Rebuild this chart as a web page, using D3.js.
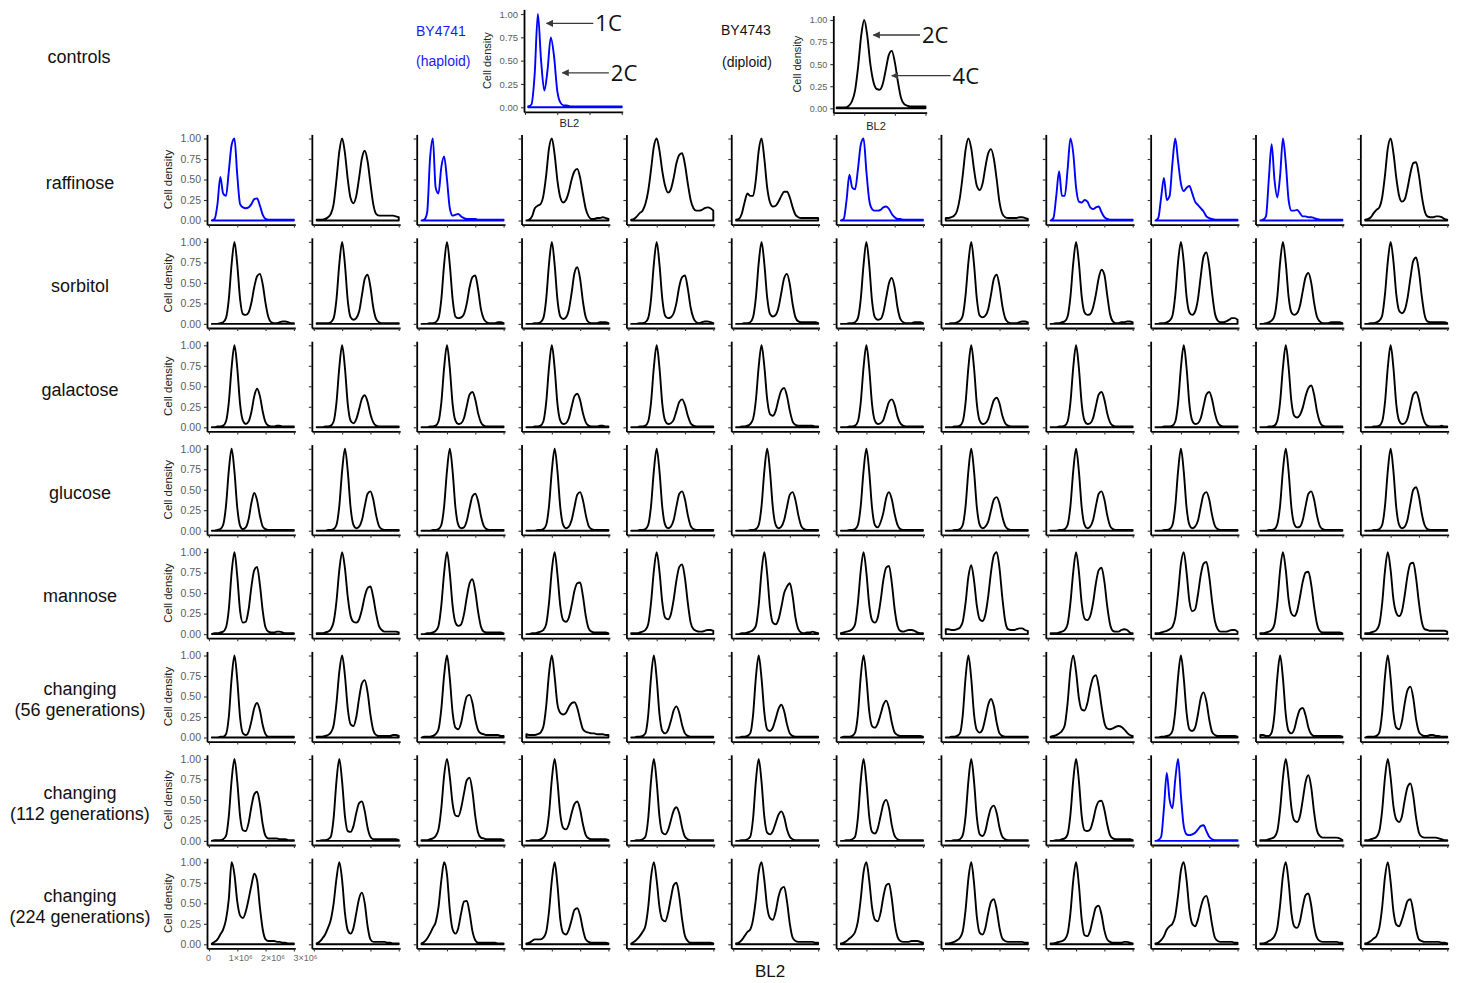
<!DOCTYPE html>
<html>
<head>
<meta charset="utf-8">
<script src="https://cdn.jsdelivr.net/npm/d3@7"></script>
<style>
    body { margin: 0; background: #fff; }
    svg { display: block; font-family: "Liberation Sans", Arial, sans-serif; }
</style>
</head>
<body>
<div id="viz"></div>
<script>
const bl2Grid = [0.1, 0.2, 0.3, 0.4, 0.5, 0.6, 0.7, 0.8, 0.9, 1.0,
                 1.1, 1.2, 1.3, 1.4, 1.5, 1.6, 1.7, 1.8, 1.9, 2.0,
                 2.1, 2.2, 2.3, 2.4, 2.5, 2.6, 2.7, 2.8, 2.9, 3.0];

const conditions = ['raffinose', 'sorbitol', 'galactose', 'glucose', 'mannose',
                    'changing56', 'changing112', 'changing224'];
const rowLabels = [['raffinose'], ['sorbitol'], ['galactose'], ['glucose'], ['mannose'],
                   ['changing', '(56 generations)'], ['changing', '(112 generations)'],
                   ['changing', '(224 generations)']];

// columns (0-based) that are haploid, drawn in blue
const haploidCols = {raffinose: [0, 2, 6, 8, 9, 10], changing112: [9]};

const xTickValues = [0, 1e6, 2e6, 3e6];
const yTickValues = [0, 0.25, 0.5, 0.75, 1];

const haploidControl = [.01,.03,.35,1,.5,.18,.4,.75,.55,.18, .05,.02,.02,.01,.01,.01,.01,.01,.01,.01, .01,.01,.01,.01,.01,.01,.01,.01,.01,.01];
const diploidControl = [.01,.01,.01,.01,.03,.08,.2,.47,.82,1, .82,.5,.3,.22,.21,.27,.43,.6,.65,.52, .3,.12,.05,.03,.02,.02,.02,.02,.02,.02];

const controlNotes = [
    {panel: 'haploid', label: '1C', tipX: 0.67e6, tailX: 2.12e6, y: 0.9},
    {panel: 'haploid', label: '2C', tipX: 1.16e6, tailX: 2.6e6, y: 0.37},
    {panel: 'diploid', label: '2C', tipX: 1.3e6, tailX: 2.82e6, y: 0.83},
    {panel: 'diploid', label: '4C', tipX: 1.9e6, tailX: 3.82e6, y: 0.37}
];

const raffinose = [
    [0,.02,.2,.53,.33,.3,.6,.92,1,.55, .2,.16,.15,.16,.2,.26,.27,.18,.07,.02, .01,.01,.01,.01,.01,.01,.01,.01,.01,.01],
    [.01,.01,.01,.02,.04,.08,.2,.5,.84,1, .82,.5,.27,.21,.3,.52,.76,.85,.72,.45, .2,.08,.06,.06,.06,.06,.06,.06,.05,.04],
    [0,.01,.1,.75,1,.4,.33,.65,.78,.5, .15,.06,.07,.08,.05,.03,.02,.02,.02,.02, .01,.01,.01,.01,.01,.01,.01,.01,.01,.01],
    [0,.01,.05,.15,.18,.2,.3,.55,.88,1, .8,.48,.28,.22,.25,.35,.5,.6,.63,.52, .32,.14,.05,.02,.02,.03,.03,.04,.03,.02],
    [.01,.02,.05,.09,.12,.2,.36,.62,.9,1, .85,.6,.42,.34,.38,.52,.7,.8,.82,.68, .45,.25,.15,.12,.12,.13,.15,.16,.15,.12],
    [.01,.02,.08,.22,.33,.3,.3,.5,.85,1, .75,.4,.22,.17,.18,.23,.3,.35,.35,.28, .16,.07,.04,.03,.03,.03,.03,.03,.03,.03],
    [0,.02,.25,.56,.4,.38,.62,.92,1,.6, .25,.14,.12,.12,.13,.16,.17,.14,.08,.04, .02,.02,.01,.01,.01,.01,.01,.01,.01,.01],
    [.03,.03,.04,.06,.12,.28,.55,.86,1,.88, .62,.42,.37,.45,.65,.82,.87,.75,.5,.22, .08,.04,.03,.03,.03,.03,.04,.04,.03,.02],
    [0,.03,.3,.6,.3,.3,.62,1,.82,.4, .23,.22,.25,.23,.16,.14,.16,.17,.1,.04, .02,.01,.01,.01,.01,.01,.01,.01,.01,.01],
    [0,.03,.28,.52,.25,.3,.7,1,.72,.45, .36,.4,.42,.33,.23,.19,.15,.11,.05,.03, .02,.01,.01,.01,.01,.01,.01,.01,.01,.01],
    [0,.01,.05,.5,.93,.5,.28,.55,1,.7, .25,.12,.12,.13,.09,.05,.05,.04,.04,.03, .02,.01,.01,.01,.01,.01,.01,.01,.01,.01],
    [.01,.02,.04,.09,.13,.16,.28,.55,.88,1, .82,.52,.3,.23,.26,.4,.58,.7,.71,.55, .3,.12,.05,.04,.04,.05,.05,.04,.02,.01]
];

const sorbitol = [
    [0,0,0,.01,.02,.07,.3,.73,1,.72, .3,.12,.11,.14,.26,.45,.58,.61,.48,.25, .08,.02,.01,.01,.02,.03,.03,.02,.01,.01],
    [.01,.01,.01,.01,.01,.02,.07,.3,.73,1, .72,.28,.08,.05,.07,.15,.35,.55,.6,.45, .2,.06,.02,.01,.01,.01,.01,.01,.01,.01],
    [0,0,0,.01,.01,.02,.07,.3,.73,1, .72,.3,.09,.07,.08,.12,.25,.45,.57,.59, .42,.18,.06,.02,.01,.01,.01,.02,.02,.01],
    [0,0,0,.01,.01,.02,.07,.3,.73,1, .72,.29,.09,.06,.08,.17,.38,.62,.69,.55, .27,.08,.02,.01,.01,.01,.02,.02,.02,.01],
    [0,0,0,.01,.01,.02,.07,.3,.73,1, .72,.3,.1,.07,.08,.13,.26,.46,.57,.59, .43,.2,.07,.02,.01,.02,.03,.03,.02,.01],
    [0,0,0,.01,.01,.02,.08,.32,.74,1, .73,.32,.12,.09,.11,.2,.38,.56,.61,.48, .24,.08,.03,.02,.02,.02,.02,.02,.02,.01],
    [0,0,0,.01,.01,.02,.07,.3,.72,1, .72,.28,.08,.05,.06,.14,.32,.5,.56,.44, .2,.06,.02,.01,.01,.01,.02,.02,.02,.01],
    [0,0,.01,.01,.02,.04,.1,.35,.75,1, .72,.3,.1,.08,.1,.18,.36,.55,.6,.46, .22,.07,.02,.01,.01,.01,.02,.03,.03,.02],
    [0,0,.01,.01,.02,.03,.09,.33,.74,1, .74,.33,.14,.11,.12,.2,.36,.56,.66,.6, .35,.12,.03,.01,.01,.02,.02,.03,.03,.02],
    [0,0,.01,.01,.02,.04,.1,.35,.76,1, .75,.33,.14,.11,.15,.3,.58,.82,.87,.7, .38,.13,.04,.02,.02,.03,.05,.07,.07,.05],
    [0,0,.01,.02,.04,.1,.33,.75,1,.74, .33,.14,.11,.13,.22,.4,.57,.62,.5,.26, .09,.03,.01,.01,.01,.02,.02,.02,.02,.01],
    [0,0,.01,.01,.02,.04,.1,.36,.76,1, .76,.36,.16,.13,.17,.32,.56,.77,.81,.64, .34,.11,.03,.02,.02,.02,.02,.02,.02,.01]
];

const galactose = [
    [0,0,.01,.01,.02,.07,.3,.73,1,.72, .28,.08,.04,.07,.19,.38,.47,.38,.19,.06, .02,.01,.01,.02,.02,.01,.01,.01,.01,.01],
    [0,0,0,.01,.01,.02,.07,.3,.73,1, .72,.28,.08,.05,.1,.22,.35,.39,.31,.16, .06,.02,.01,.01,.01,.01,.01,.01,.01,.01],
    [0,0,0,.01,.01,.02,.07,.3,.73,1, .72,.28,.08,.04,.05,.11,.26,.4,.43,.34, .17,.06,.02,.01,.01,.01,.01,.01,.01,.01],
    [0,0,0,.01,.01,.02,.07,.3,.73,1, .72,.28,.08,.04,.05,.11,.25,.38,.41,.33, .17,.06,.02,.01,.01,.01,.02,.02,.01,.01],
    [0,0,0,.01,.01,.02,.07,.3,.73,1, .72,.28,.08,.04,.05,.09,.2,.31,.34,.27, .14,.05,.02,.01,.01,.01,.01,.01,.01,.01],
    [0,0,.01,.01,.02,.04,.1,.33,.74,1, .74,.34,.16,.14,.2,.34,.45,.48,.38,.2, .07,.03,.02,.02,.02,.02,.02,.02,.01,.01],
    [0,0,0,.01,.01,.02,.07,.3,.73,1, .72,.28,.08,.04,.05,.09,.2,.31,.34,.27, .13,.05,.02,.01,.01,.01,.01,.01,.01,.01],
    [0,0,0,.01,.01,.02,.07,.3,.73,1, .72,.28,.08,.04,.05,.1,.22,.33,.36,.29, .14,.05,.02,.01,.01,.01,.01,.01,.01,.01],
    [0,0,0,.01,.01,.02,.07,.3,.73,1, .72,.28,.08,.04,.05,.11,.26,.4,.43,.34, .17,.06,.02,.01,.01,.01,.01,.01,.01,.01],
    [0,0,0,.01,.01,.01,.02,.07,.3,.73, 1,.72,.28,.08,.04,.05,.11,.26,.4,.43, .34,.17,.06,.02,.01,.01,.01,.01,.01,.01],
    [0,0,0,.01,.01,.02,.08,.31,.73,1, .73,.31,.14,.12,.15,.24,.38,.48,.51,.4, .2,.07,.02,.01,.01,.01,.01,.01,.01,.01],
    [0,0,0,.01,.01,.02,.07,.3,.73,1, .72,.28,.08,.04,.05,.11,.26,.4,.43,.34, .17,.06,.02,.01,.01,.01,.01,.02,.01,.01]
];

const glucose = [
    [0,0,.01,.02,.07,.3,.73,1,.72,.28, .06,.02,.04,.14,.34,.46,.37,.18,.05,.02, .01,.01,.01,.01,.01,.01,.01,.01,.01,.01],
    [0,0,0,0,.01,.01,.02,.07,.3,.73, 1,.72,.28,.07,.03,.05,.13,.3,.45,.48, .38,.19,.06,.02,.01,.01,.01,.01,.01,.01],
    [0,0,0,0,.01,.01,.02,.07,.3,.73, 1,.72,.28,.07,.03,.04,.12,.28,.42,.45, .36,.18,.06,.02,.01,.01,.01,.01,.01,.01],
    [0,0,0,0,.01,.01,.02,.07,.3,.73, 1,.72,.28,.07,.03,.05,.13,.29,.44,.47, .37,.19,.06,.02,.01,.01,.01,.01,.01,.01],
    [0,0,0,.01,.01,.02,.07,.3,.73,1, .72,.28,.07,.03,.05,.13,.3,.45,.48,.38, .19,.06,.02,.01,.01,.01,.01,.01,.01,.01],
    [0,0,0,0,0,.01,.01,.02,.07,.3, .73,1,.72,.28,.07,.03,.05,.13,.29,.44, .47,.37,.19,.06,.02,.01,.01,.01,.01,.01],
    [0,0,0,.01,.01,.02,.07,.3,.73,1, .72,.28,.07,.04,.1,.22,.4,.47,.38,.2, .07,.02,.01,.01,.01,.01,.01,.01,.01,.01],
    [0,0,0,.01,.01,.02,.07,.3,.73,1, .72,.28,.07,.03,.05,.11,.25,.38,.41,.33, .17,.06,.02,.01,.01,.01,.01,.01,.01,.01],
    [0,0,0,.01,.01,.02,.07,.3,.73,1, .72,.28,.07,.03,.05,.13,.3,.45,.48,.38, .19,.06,.02,.01,.01,.01,.01,.01,.01,.01],
    [0,0,0,.01,.01,.02,.07,.3,.73,1, .72,.28,.07,.03,.05,.12,.29,.44,.47,.38, .19,.06,.02,.01,.01,.01,.01,.01,.01,.01],
    [0,0,0,.01,.01,.02,.08,.31,.74,1, .72,.28,.08,.04,.05,.13,.3,.45,.48,.38, .19,.06,.02,.01,.01,.01,.01,.01,.01,.01],
    [0,0,0,.01,.01,.02,.07,.3,.73,1, .72,.28,.07,.03,.05,.14,.33,.5,.53,.42, .21,.07,.02,.01,.01,.01,.01,.01,.01,.01]
];

const mannose = [
    [0,.01,.01,.02,.03,.08,.3,.75,1,.7, .28,.14,.15,.3,.58,.78,.82,.6,.28,.08, .03,.02,.02,.03,.03,.02,.01,.01,.01,.01],
    [.01,.01,.01,.02,.03,.06,.15,.4,.78,1, .8,.45,.22,.15,.14,.18,.3,.46,.56,.58, .45,.25,.1,.05,.03,.03,.03,.03,.03,.02],
    [0,0,.01,.01,.02,.04,.1,.35,.75,1, .74,.34,.14,.1,.12,.24,.45,.62,.67,.52, .27,.09,.03,.02,.02,.02,.02,.02,.02,.01],
    [0,0,.01,.01,.02,.03,.05,.12,.38,.78, 1,.72,.34,.17,.15,.2,.35,.53,.62,.63, .46,.22,.07,.03,.02,.02,.02,.02,.02,.01],
    [.01,.01,.01,.02,.03,.05,.12,.38,.77,1, .76,.38,.2,.18,.24,.42,.66,.82,.85,.68, .38,.14,.06,.04,.03,.03,.04,.05,.05,.04],
    [0,0,.01,.01,.02,.03,.05,.1,.35,.76, 1,.73,.32,.14,.12,.18,.33,.5,.58,.62, .46,.2,.06,.02,.01,.02,.02,.03,.02,.01],
    [.01,.02,.03,.04,.06,.12,.38,.77,1,.75, .36,.17,.14,.2,.4,.66,.81,.83,.62,.3, .1,.04,.03,.04,.05,.05,.04,.02,.01,.01],
    [.06,.06,.05,.05,.06,.08,.15,.38,.7,.84, .65,.34,.18,.16,.24,.46,.76,.96,1,.8, .44,.16,.06,.05,.05,.06,.07,.07,.05,.04],
    [.01,.01,.01,.02,.03,.05,.12,.38,.76,1, .76,.37,.19,.17,.22,.38,.62,.78,.81,.64, .34,.12,.04,.03,.03,.05,.06,.05,.02,.01],
    [.01,.01,.02,.03,.04,.06,.09,.2,.5,.86, 1,.75,.4,.28,.3,.48,.72,.86,.88,.7, .4,.16,.06,.03,.03,.03,.04,.05,.05,.03],
    [.01,.01,.02,.03,.05,.12,.38,.78,1,.78, .42,.25,.22,.28,.45,.64,.75,.76,.6,.34, .13,.04,.02,.02,.02,.02,.02,.02,.02,.01],
    [.01,.01,.02,.03,.05,.12,.37,.77,1,.78, .42,.26,.22,.28,.48,.72,.86,.87,.68,.38, .15,.06,.05,.04,.04,.04,.04,.04,.04,.03]
];

const changing56 = [
    [0,0,0,.01,.01,.04,.25,.72,1,.7, .24,.05,.03,.07,.2,.36,.42,.33,.15,.04, .01,.01,.01,.01,.01,.01,.01,.01,.01,.01],
    [.01,.01,.01,.02,.03,.06,.15,.42,.8,1, .75,.35,.16,.14,.25,.48,.66,.7,.55,.28, .09,.03,.02,.02,.02,.02,.02,.03,.03,.02],
    [0,.01,.01,.01,.02,.04,.1,.35,.76,1, .72,.3,.12,.1,.18,.36,.5,.52,.42,.22, .09,.05,.04,.03,.03,.03,.03,.03,.02,.02],
    [.04,.03,.03,.03,.04,.06,.13,.38,.78,1, .74,.4,.3,.28,.3,.37,.42,.43,.36,.22, .1,.07,.06,.05,.05,.04,.04,.04,.03,.03],
    [0,0,.01,.01,.02,.05,.27,.73,1,.72, .28,.08,.05,.09,.2,.33,.38,.3,.15,.05, .02,.01,.01,.01,.01,.01,.01,.01,.01,.01],
    [0,0,.01,.01,.02,.05,.27,.73,1,.72, .3,.1,.08,.12,.23,.35,.4,.32,.16,.05, .02,.01,.01,.01,.01,.01,.01,.01,.01,.01],
    [0,.01,.01,.01,.02,.06,.28,.74,1,.73, .32,.14,.12,.17,.28,.4,.45,.36,.18,.06, .03,.02,.02,.02,.02,.02,.02,.02,.02,.01],
    [0,0,.01,.01,.02,.05,.27,.73,1,.72, .28,.09,.06,.1,.24,.4,.47,.38,.18,.05, .02,.01,.01,.01,.01,.01,.01,.01,.01,.01],
    [.01,.02,.03,.05,.08,.15,.42,.82,1,.8, .48,.34,.33,.42,.6,.73,.76,.62,.38,.18, .11,.1,.11,.13,.14,.13,.1,.06,.03,.02],
    [0,0,.01,.01,.02,.03,.08,.32,.74,1, .72,.3,.1,.08,.12,.28,.48,.55,.44,.22, .07,.03,.02,.02,.02,.02,.02,.02,.02,.01],
    [.03,.03,.02,.02,.06,.28,.73,1,.72,.28, .08,.05,.1,.24,.34,.36,.27,.12,.04,.02, .02,.02,.02,.02,.02,.02,.02,.02,.02,.01],
    [0,.01,.01,.01,.02,.06,.3,.74,1,.72, .3,.12,.1,.2,.42,.58,.62,.48,.22,.07, .03,.02,.02,.03,.03,.02,.02,.01,.01,.01]
];

const changing112 = [
    [0,.01,.01,.01,.02,.06,.3,.74,1,.72, .3,.13,.12,.22,.42,.57,.6,.45,.2,.06, .03,.03,.03,.03,.02,.02,.02,.01,.01,.01],
    [0,0,.01,.01,.02,.05,.28,.73,1,.72, .3,.12,.11,.18,.34,.46,.48,.36,.16,.05, .02,.02,.02,.02,.02,.02,.02,.02,.02,.01],
    [.01,.01,.01,.02,.03,.06,.14,.4,.8,1, .78,.45,.31,.3,.4,.58,.74,.77,.6,.3, .1,.04,.03,.02,.02,.02,.02,.02,.02,.01],
    [0,0,.01,.01,.01,.02,.04,.1,.33,.75, 1,.72,.32,.16,.14,.2,.34,.45,.48,.38, .2,.07,.03,.02,.02,.02,.02,.02,.02,.01],
    [0,0,.01,.01,.02,.05,.27,.73,1,.72, .29,.1,.08,.13,.25,.37,.41,.33,.16,.05, .02,.01,.01,.01,.01,.01,.01,.01,.01,.01],
    [0,0,.01,.01,.02,.05,.27,.73,1,.72, .29,.1,.08,.12,.22,.32,.36,.29,.14,.05, .02,.01,.01,.01,.01,.01,.01,.01,.01,.01],
    [0,0,.01,.01,.02,.05,.28,.73,1,.72, .3,.11,.09,.15,.3,.45,.5,.4,.19,.06, .02,.01,.01,.01,.01,.01,.01,.01,.01,.01],
    [0,0,0,.01,.01,.02,.07,.3,.73,1, .72,.28,.08,.06,.12,.28,.4,.43,.34,.16, .05,.02,.01,.01,.01,.01,.01,.01,.01,.01],
    [0,0,.01,.01,.02,.03,.08,.32,.74,1, .73,.3,.13,.12,.14,.25,.4,.48,.49,.38, .2,.07,.03,.02,.02,.02,.02,.02,.02,.01],
    [0,.01,.05,.4,.83,.5,.4,.75,1,.55, .18,.08,.07,.08,.1,.14,.18,.19,.12,.05, .02,.01,.01,.01,.01,.01,.01,.01,.01,.01],
    [.01,.01,.01,.02,.03,.05,.12,.38,.77,1, .76,.4,.25,.23,.3,.5,.72,.8,.65,.35, .13,.06,.04,.04,.04,.04,.04,.04,.03,.01],
    [.01,.01,.02,.03,.05,.12,.37,.77,1,.77, .42,.26,.23,.3,.5,.66,.7,.55,.28,.1, .05,.04,.04,.04,.04,.04,.03,.02,.01,.01]
];

const changing224 = [
    [.01,.03,.06,.12,.18,.3,.55,1,.85,.52, .35,.32,.4,.55,.72,.86,.78,.45,.18,.06, .04,.04,.04,.03,.03,.02,.02,.01,.01,.01],
    [.01,.03,.07,.12,.2,.3,.5,.8,1,.78, .38,.17,.13,.2,.38,.56,.63,.5,.22,.06, .03,.03,.03,.03,.03,.02,.02,.01,.01,.01],
    [.01,.03,.07,.13,.2,.27,.45,.78,1,.85, .42,.18,.13,.2,.38,.52,.53,.38,.16,.05, .02,.02,.02,.02,.02,.02,.02,.01,.01,.01],
    [.01,.02,.04,.06,.06,.06,.08,.15,.4,.78, 1,.72,.3,.14,.12,.18,.3,.42,.44,.35, .18,.06,.03,.02,.02,.02,.02,.02,.02,.01],
    [.01,.03,.06,.1,.15,.22,.45,.82,1,.78, .45,.3,.28,.38,.56,.72,.75,.58,.3,.1, .04,.02,.02,.02,.02,.02,.02,.02,.02,.01],
    [.01,.02,.05,.1,.15,.18,.3,.55,.88,1, .78,.45,.32,.3,.4,.58,.68,.7,.52,.25, .08,.04,.03,.03,.03,.03,.03,.03,.02,.02],
    [.01,.02,.04,.07,.1,.15,.28,.55,.88,1, .78,.45,.3,.28,.38,.58,.72,.74,.55,.26, .09,.04,.03,.03,.03,.04,.04,.04,.03,.02],
    [.01,.01,.02,.03,.05,.08,.16,.42,.8,1, .74,.33,.14,.12,.2,.38,.52,.55,.42,.2, .07,.04,.03,.03,.03,.03,.03,.03,.02,.02],
    [.01,.01,.02,.03,.04,.06,.13,.38,.78,1, .72,.3,.11,.1,.17,.32,.45,.47,.36,.17, .06,.03,.02,.02,.02,.02,.03,.03,.02,.01],
    [.01,.02,.05,.1,.18,.22,.25,.35,.6,.9, 1,.78,.42,.25,.22,.3,.45,.56,.59,.46, .24,.08,.04,.03,.03,.03,.03,.03,.02,.02],
    [.01,.01,.02,.04,.06,.1,.2,.48,.84,1, .76,.38,.22,.2,.28,.46,.6,.62,.47,.22, .08,.04,.03,.03,.03,.03,.03,.03,.02,.02],
    [.01,.02,.04,.07,.1,.2,.45,.82,1,.76, .4,.24,.22,.3,.42,.53,.55,.4,.18,.06, .04,.03,.03,.03,.03,.03,.03,.02,.02,.01]
];

const curvesByCondition = {raffinose, sorbitol, galactose, glucose, mannose,
                           changing56, changing112, changing224};

// ---- layout ----
const width = 1471, height = 983;
const black = '#000', blue = '#0000ff';

const gridLeft = 207, colStep = 104.85, panelW = 88.3;
const firstZero = 220.5, rowStep = 103.4, unitH = 82;

const svg = d3.select('#viz').append('svg')
    .attr('width', width)
    .attr('height', height);

svg.append('rect').attr('width', width).attr('height', height).attr('fill', '#fff');

svg.append('defs').append('marker')
    .attr('id', 'arrowHead')
    .attr('viewBox', '0 0 10 10')
    .attr('refX', 9).attr('refY', 5)
    .attr('markerWidth', 5.5).attr('markerHeight', 5.5)
    .attr('markerUnits', 'strokeWidth')
    .attr('orient', 'auto-start-reverse')
    .append('path')
    .attr('d', 'M0,0 L10,5 L0,10 Z')
    .attr('fill', '#3a3a3a');

function drawPanel(p) {
    // p: left, right, xDomain, zeroY, oneY, values, color, labels, labelSize
    const pad = 0.05 * (p.zeroY - p.oneY);
    const x = d3.scaleLinear().domain(p.xDomain).range([p.left, p.right]);
    const y = d3.scaleLinear().domain([-0.05, 1.05]).range([p.zeroY + pad, p.oneY - pad]);

    const g = svg.append('g');

    const area = d3.area()
        .x((d, i) => x(bl2Grid[i] * 1e6))
        .y0(y(0))
        .y1(d => y(d))
        .curve(d3.curveMonotoneX);

    g.append('path')
        .datum(p.values)
        .attr('d', area)
        .attr('fill', 'none')
        .attr('stroke', p.color)
        .attr('stroke-width', 1.9)
        .attr('stroke-linejoin', 'round');

    const xAxis = g.append('g')
        .attr('transform', 'translate(0,' + y(-0.05) + ')')
        .call(d3.axisBottom(x).tickValues(xTickValues).tickFormat('').tickSize(3).tickSizeOuter(0));

    const yAxis = g.append('g')
        .attr('transform', 'translate(' + x.range()[0] + ',0)')
        .call(d3.axisLeft(y).tickValues(yTickValues)
            .tickFormat(p.labels ? d3.format('.2f') : '')
            .tickSize(3).tickPadding(3).tickSizeOuter(0));

    [xAxis, yAxis].forEach(a => {
        a.select('.domain').attr('stroke', black).attr('stroke-width', 1.8);
        a.selectAll('.tick line').attr('stroke', '#333').attr('stroke-width', 1.1);
        a.selectAll('text')
            .attr('fill', '#5c5c5c')
            .style('font-size', (p.labelSize || 10.5) + 'px');
    });

    if (p.labels) {
        g.append('text')
            .attr('transform', 'translate(' + p.titleX + ',' + (y(-0.05) + y(1.05)) / 2 + ') rotate(-90)')
            .attr('text-anchor', 'middle')
            .attr('dy', '0.35em')
            .style('font-size', (p.titleSize || 11.5) + 'px')
            .attr('fill', '#222')
            .text('Cell density');
    }
    return {x, y, g};
}

// ---- grid of density panels ----
conditions.forEach((cond, r) => {
    const zeroY = firstZero + r * rowStep;
    const blueCols = haploidCols[cond] || [];

    curvesByCondition[cond].forEach((values, c) => {
        const left = gridLeft + c * colStep;
        const pnl = drawPanel({
            left: left, right: left + panelW,
            xDomain: [-0.07e6, 3.05e6],
            zeroY: zeroY, oneY: zeroY - unitH,
            values: values,
            color: blueCols.includes(c) ? blue : black,
            labels: c === 0, titleX: 168
        });

        // BL2 tick labels only under the bottom-left panel
        if (r === conditions.length - 1 && c === 0) {
            const labelScale = d3.scaleLinear()
                .domain([0, 3e6])
                .range([pnl.x(0) - 1, pnl.x(0) - 1 + 3 * 32.3]);
            const lab = pnl.g.append('g')
                .attr('transform', 'translate(0,' + (pnl.y(-0.05) + 4) + ')')
                .call(d3.axisBottom(labelScale).tickValues(xTickValues)
                    .tickFormat(d => d === 0 ? '0' : (d / 1e6) + '×10⁶')
                    .tickSize(0).tickPadding(2));
            lab.select('.domain').remove();
            lab.selectAll('text').attr('fill', '#6a6a6a').style('font-size', '9px');
        }
    });

    // row label
    const lines = rowLabels[r];
    const midY = zeroY - unitH / 2 + 3;
    const t = svg.append('text')
        .attr('x', 80)
        .attr('text-anchor', 'middle')
        .style('font-size', '18px')
        .attr('fill', '#111');
    lines.forEach((line, i) => {
        t.append('tspan')
            .attr('x', 80)
            .attr('y', midY + (i - (lines.length - 1) / 2) * 21)
            .attr('dy', '0.35em')
            .text(line);
    });
});

// ---- control panels ----
svg.append('text')
    .attr('x', 79).attr('y', 57).attr('dy', '0.35em')
    .attr('text-anchor', 'middle')
    .style('font-size', '18px')
    .attr('fill', '#111')
    .text('controls');

const haploid = drawPanel({
    left: 524, right: 622.7, xDomain: [-0.03e6, 3.03e6],
    zeroY: 107.3, oneY: 14, values: haploidControl, color: blue,
    labels: true, titleX: 487, labelSize: 9.5, titleSize: 11
});
const diploid = drawPanel({
    left: 833.3, right: 926.7, xDomain: [-0.01e6, 3.04e6],
    zeroY: 108.3, oneY: 20, values: diploidControl, color: black,
    labels: true, titleX: 797, labelSize: 9, titleSize: 11
});

[[haploid, 123], [diploid, 126]].forEach(([pnl, yy]) => {
    const r = pnl.x.range();
    svg.append('text')
        .attr('x', (r[0] + r[1]) / 2 - 4).attr('y', yy).attr('dy', '0.35em')
        .attr('text-anchor', 'middle')
        .style('font-size', '11px')
        .attr('fill', '#222')
        .text('BL2');
});

// strain names
[['BY4741', 416, 31, blue], ['(haploid)', 416, 61, blue],
 ['BY4743', 721, 30, '#111'], ['(diploid)', 722, 62, '#111']].forEach(d => {
    svg.append('text')
        .attr('x', d[1]).attr('y', d[2]).attr('dy', '0.35em')
        .style('font-size', '14px')
        .attr('fill', d[3] === blue ? '#1a1aee' : d[3])
        .text(d[0]);
});

// ploidy arrows
controlNotes.forEach(n => {
    const pnl = n.panel === 'haploid' ? haploid : diploid;
    const yy = pnl.y(n.y);
    svg.append('line')
        .attr('x1', pnl.x(n.tailX)).attr('y1', yy)
        .attr('x2', pnl.x(n.tipX)).attr('y2', yy)
        .attr('stroke', '#3a3a3a')
        .attr('stroke-width', 1.3)
        .attr('marker-end', 'url(#arrowHead)');
    svg.append('text')
        .attr('x', pnl.x(n.tailX) + 2).attr('y', yy).attr('dy', '0.36em')
        .style('font-family', '"Open Sans", sans-serif')
        .style('font-size', '22px')
        .attr('fill', '#111')
        .text(n.label);
});

// shared x title
svg.append('text')
    .attr('x', 770).attr('y', 971).attr('dy', '0.35em')
    .attr('text-anchor', 'middle')
    .style('font-size', '17px')
    .attr('fill', '#111')
    .text('BL2');
</script>
</body>
</html>
